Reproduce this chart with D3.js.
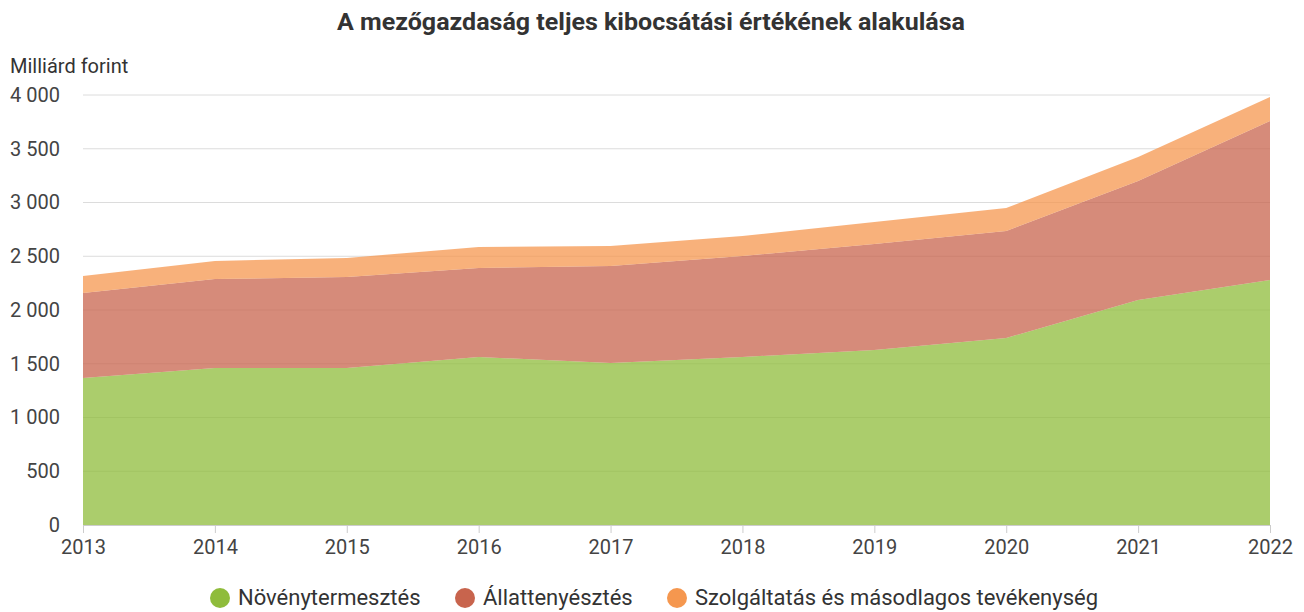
<!DOCTYPE html>
<html>
<head>
<meta charset="utf-8">
<script src="https://cdn.jsdelivr.net/npm/d3@7"></script>
<style>
  body { margin: 0; background: #fff; }
  text { font-family: Roboto, "Noto Sans", sans-serif; }
</style>
</head>
<body>
<div id="chart"></div>
<script>
// Data (billion HUF)
const years = [2013, 2014, 2015, 2016, 2017, 2018, 2019, 2020, 2021, 2022];
const crops = [1367, 1460, 1460, 1563, 1507, 1563, 1628, 1740, 2093, 2279];
const livestock = [791, 828, 847, 828, 902, 939, 986, 995, 1107, 1479];
const services = [158, 168, 177, 195, 186, 186, 205, 214, 223, 223];
const seriesNames = ["Növénytermesztés", "Állattenyésztés", "Szolgáltatás és másodlagos tevékenység"];
const yTicks = [0, 500, 1000, 1500, 2000, 2500, 3000, 3500, 4000];

const colors = ["#8fbc3b", "#c8644d", "#f5974f"];

const width = 1304, height = 612;
const margin = { top: 95, right: 34, bottom: 87, left: 83 };
const innerW = width - margin.left - margin.right;
const innerH = height - margin.top - margin.bottom;

const table = years.map((y, i) => ({ year: y, a: crops[i], b: livestock[i], c: services[i] }));
const stack = d3.stack().keys(["a", "b", "c"]);
const layers = stack(table);

const x = d3.scaleLinear().domain([years[0], years[years.length - 1]]).range([0, innerW]);
const y = d3.scaleLinear().domain([0, 4000]).range([innerH, 0]);

const svg = d3.select("#chart").append("svg")
  .attr("width", width).attr("height", height);

svg.append("text")
  .attr("x", 651).attr("y", 30)
  .attr("text-anchor", "middle")
  .attr("font-size", 24).attr("font-weight", "bold").attr("fill", "#333")
  .attr("textLength", 628).attr("lengthAdjust", "spacingAndGlyphs")
  .text("A mezőgazdaság teljes kibocsátási értékének alakulása");

svg.append("text")
  .attr("x", 10).attr("y", 73)
  .attr("font-size", 20).attr("fill", "#333")
  .text("Milliárd forint");

const g = svg.append("g").attr("transform", `translate(${margin.left},${margin.top})`);

// gridlines
g.append("g").selectAll("line")
  .data(yTicks.filter(d => d > 0))
  .join("line")
  .attr("x1", 0).attr("x2", innerW)
  .attr("y1", d => y(d)).attr("y2", d => y(d))
  .attr("stroke", "#dcdcdc").attr("stroke-width", 1);

// y axis labels
const yAxis = d3.axisLeft(y).tickValues(yTicks).tickSize(0).tickPadding(23)
  .tickFormat(d => d3.format(",")(d).replace(",", " "));
g.append("g").call(yAxis)
  .call(s => s.select(".domain").remove())
  .call(s => s.selectAll("text").attr("font-size", 20).attr("fill", "#444").attr("font-family", "Roboto, sans-serif"));

// areas
const area = d3.area()
  .x(d => x(d.data.year))
  .y0(d => y(d[0]))
  .y1(d => y(d[1]));

g.append("g").selectAll("path")
  .data(layers)
  .join("path")
  .attr("d", area)
  .attr("fill", (d, i) => colors[i])
  .attr("fill-opacity", 0.75);

// x axis
const xAxis = d3.axisBottom(x).tickValues(years).tickFormat(d3.format("d")).tickSize(8).tickPadding(7);
g.append("g").attr("transform", `translate(0,${innerH})`).call(xAxis)
  .call(s => s.select(".domain").attr("stroke", "#ccc"))
  .call(s => s.selectAll(".tick line").attr("stroke", "#ccc"))
  .call(s => s.selectAll("text").attr("font-size", 20).attr("fill", "#444").attr("font-family", "Roboto, sans-serif"));

// legend
const legend = svg.append("g").attr("transform", "translate(0,598)");
const legendX = [220, 465, 677];
seriesNames.forEach((name, i) => {
  const item = legend.append("g").attr("transform", `translate(${legendX[i]},0)`);
  item.append("circle").attr("r", 10).attr("cx", 0).attr("cy", 0).attr("fill", colors[i]);
  item.append("text").attr("x", 18).attr("y", 7)
    .attr("font-size", 22).attr("fill", "#333").text(name);
});
</script>
</body>
</html>
